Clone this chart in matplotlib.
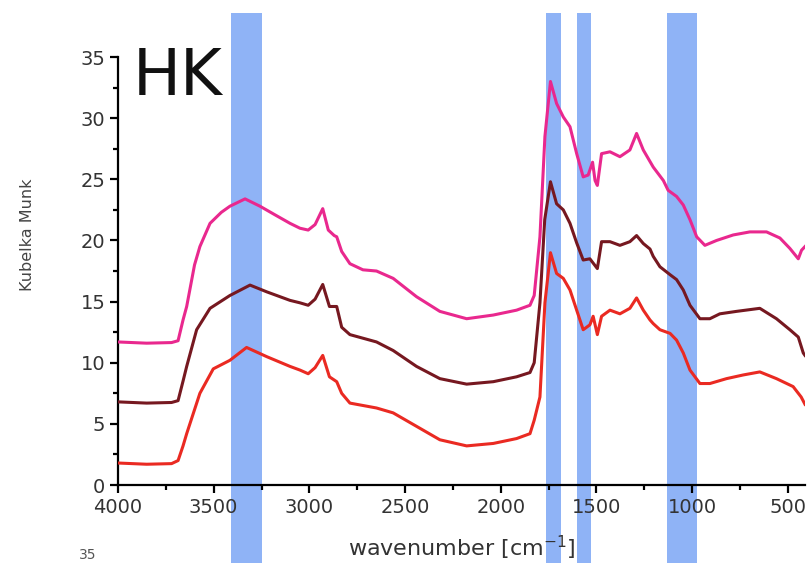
import matplotlib
matplotlib.use("Agg")
import matplotlib.pyplot as plt
from matplotlib.patches import Rectangle
from matplotlib.transforms import blended_transform_factory

plt.rcParams['font.family'] = ['DejaVu Sans']

# ---- data ----
pink_w = [4000, 3850, 3720, 3686, 3660, 3641, 3600, 3572, 3519, 3460, 3415, 3336, 3258, 3180,
          3101, 3049, 3006, 2970, 2930, 2901, 2870, 2857, 2831, 2788, 2720, 2649, 2562, 2440,
          2318, 2178, 2039, 1917, 1847, 1825, 1795, 1769, 1740, 1708, 1673, 1638, 1603, 1569,
          1543, 1520, 1507, 1495, 1473, 1429, 1377, 1325, 1290, 1255, 1203, 1150, 1125, 1081,
          1046, 1011, 976, 933, 872, 785, 698, 611, 541, 489, 445, 428, 410]
pink_v = [11.7, 11.6, 11.65, 11.8, 13.5, 14.6, 18.0, 19.5, 21.4, 22.3, 22.8, 23.4, 22.8, 22.1,
          21.4, 21.0, 20.85, 21.3, 22.6, 20.85, 20.4, 20.3, 19.1, 18.1, 17.6, 17.5, 16.9, 15.4,
          14.2, 13.6, 13.9, 14.3, 14.7, 15.5, 20.3, 28.5, 33.0, 31.2, 30.1, 29.3, 27.1, 25.2,
          25.35, 26.4, 24.9, 24.5, 27.1, 27.25, 26.85, 27.4, 28.75, 27.4, 26.0, 24.9, 24.1, 23.6,
          22.9, 21.7, 20.3, 19.6, 20.0, 20.45, 20.7, 20.7, 20.2, 19.35, 18.5, 19.2, 19.5]

maroon_w = [4000, 3850, 3720, 3686, 3660, 3641, 3589, 3519, 3415, 3310, 3223, 3101, 3049, 3006,
            2970, 2930, 2895, 2857, 2831, 2788, 2649, 2562, 2440, 2318, 2178, 2039, 1917, 1847,
            1825, 1795, 1770, 1740, 1708, 1673, 1638, 1603, 1569, 1534, 1495, 1473, 1429, 1377,
            1325, 1290, 1255, 1220, 1203, 1168, 1115, 1081, 1046, 1011, 959, 907, 855, 768, 646,
            559, 489, 445, 419, 410]
maroon_v = [6.8, 6.7, 6.75, 6.9, 8.5, 9.7, 12.7, 14.45, 15.5, 16.35, 15.8, 15.1, 14.9, 14.7,
            15.2, 16.4, 14.6, 14.6, 12.9, 12.3, 11.7, 11.0, 9.7, 8.7, 8.25, 8.45, 8.85, 9.2,
            10.0, 14.9, 21.7, 24.8, 23.0, 22.5, 21.4, 19.8, 18.4, 18.5, 17.7, 19.9, 19.9, 19.6,
            19.9, 20.4, 19.75, 19.3, 18.7, 17.85, 17.2, 16.8, 15.95, 14.7, 13.6, 13.6, 14.0, 14.2,
            14.45, 13.6, 12.7, 12.1, 10.8, 10.6]

red_w = [4000, 3850, 3720, 3686, 3660, 3641, 3572, 3502, 3415, 3328, 3223, 3101, 3049, 3006,
         2970, 2930, 2895, 2857, 2831, 2788, 2649, 2562, 2440, 2318, 2178, 2039, 1917, 1847,
         1825, 1795, 1769, 1740, 1708, 1673, 1638, 1603, 1569, 1534, 1517, 1495, 1473, 1429,
         1377, 1325, 1290, 1255, 1220, 1203, 1168, 1115, 1081, 1046, 1011, 959, 907, 820, 733,
         646, 559, 472, 430, 410]
red_v = [1.8, 1.7, 1.75, 2.0, 3.2, 4.2, 7.5, 9.5, 10.2, 11.25, 10.5, 9.7, 9.4, 9.1,
         9.6, 10.6, 8.85, 8.45, 7.5, 6.7, 6.3, 5.9, 4.8, 3.7, 3.2, 3.4, 3.8, 4.2,
         5.3, 7.2, 14.9, 19.0, 17.3, 16.9, 15.95, 14.3, 12.7, 13.1, 13.8, 12.3, 13.8, 14.3,
         14.0, 14.45, 15.3, 14.3, 13.5, 13.2, 12.7, 12.4, 11.85, 10.8, 9.4, 8.3, 8.3, 8.7, 9.0,
         9.25, 8.7, 8.05, 7.2, 6.6]

bands = [(3410, 3250), (1765, 1685), (1600, 1530), (1130, 975)]

x_ticks = [4000, 3500, 3000, 2500, 2000, 1500, 1000, 500]
y_ticks = [0, 5, 10, 15, 20, 25, 30, 35]

# ---- figure ----
fig = plt.figure(figsize=(8.07, 5.63), dpi=100)
ax = fig.add_axes([0.1462, 0.1385, 0.8513, 0.7602])

trans = blended_transform_factory(ax.transData, fig.transFigure)
for hi, lo in bands:
    r = Rectangle((lo, 0.0), hi - lo, 0.977, transform=trans, facecolor='#8fb3f6',
                  edgecolor='none', clip_on=False, zorder=0.5)
    ax.add_patch(r)

ax.plot(pink_w, pink_v, color='#e9288e', lw=2.2, zorder=3)
ax.plot(maroon_w, maroon_v, color='#761820', lw=2.2, zorder=3)
ax.plot(red_w, red_v, color='#ea2a22', lw=2.2, zorder=3)

ax.set_xlim(4000, 410)
ax.set_ylim(0, 35)
ax.set_xticks(x_ticks)
ax.set_yticks(y_ticks)
ax.set_xticks([3750, 3250, 2750, 2250, 1750, 1250, 750], minor=True)
ax.set_yticks([2.5, 7.5, 12.5, 17.5, 22.5, 27.5, 32.5], minor=True)

for s in ['top', 'right']:
    ax.spines[s].set_visible(False)
for s in ['left', 'bottom']:
    ax.spines[s].set_linewidth(1.6)

ax.tick_params(axis='both', which='major', length=6, width=1.6, labelsize=14,
               labelcolor='#333333', pad=3)
ax.tick_params(axis='both', which='minor', length=3.5, width=1.6)

ax.set_ylabel('Kubelka Munk', fontsize=11.5, color='#444444')
ax.yaxis.set_label_coords(-0.131, 0.584)
ax.yaxis.label.set_va('center')
ax.set_xlabel(r'wavenumber [cm$^{-1}$]', fontsize=16, color='#333333')
ax.xaxis.set_label_coords(0.5, -0.147)
ax.xaxis.label.set_va('center')

ax.text(0.021, 0.911, 'HK', transform=ax.transAxes, fontsize=46, color='#111111',
        va='baseline', ha='left')

fig.text(0.098, 0.002, '35', fontsize=10, color='#555555', va='bottom', ha='left')

fig.savefig('out.png', dpi=100)
